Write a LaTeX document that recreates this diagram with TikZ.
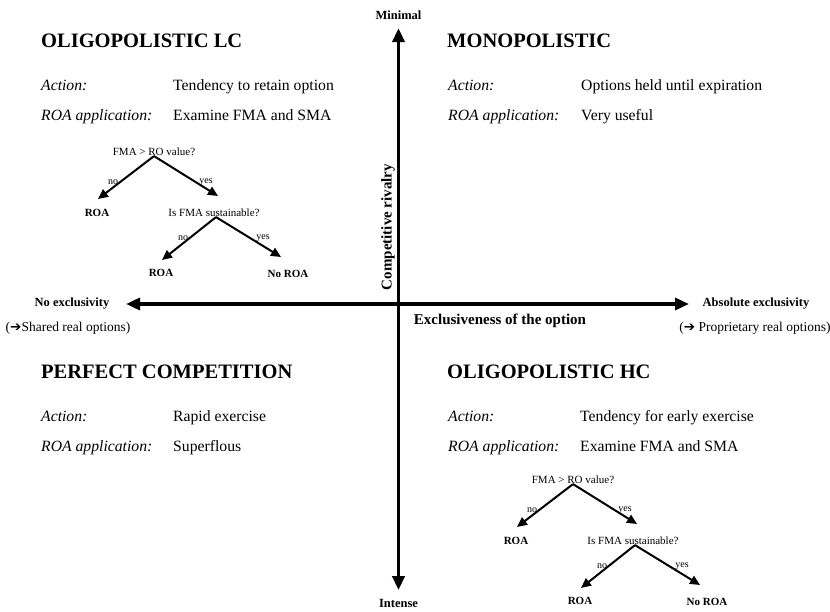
\documentclass[tikz,border=0pt]{standalone}
\usepackage{fontspec}
\setmainfont{Liberation Serif}
\newfontfamily\symfont{DejaVu Sans}
\usetikzlibrary{arrows.meta}

\tikzset{
  axis/.style={line width=3.5pt,
    {Triangle[length=14pt,width=12pt]}-{Triangle[length=14pt,width=12pt]}},
  axislabel/.style={font=\bfseries\fontsize{12.5}{14}\selectfont, inner sep=0pt},
  axisnote/.style={font=\fontsize{13.5}{15}\selectfont, inner sep=0pt},
  axistitle/.style={font=\bfseries\fontsize{15}{17}\selectfont, inner sep=0pt},
  quadtitle/.style={font=\bfseries\fontsize{20.5}{24}\selectfont, anchor=base west, inner sep=0pt},
  field/.style={font=\itshape\fontsize{15.7}{18}\selectfont, anchor=base west, inner sep=0pt},
  entry/.style={font=\fontsize{15.7}{18}\selectfont, anchor=base west, inner sep=0pt},
  question/.style={font=\fontsize{11}{13}\selectfont, inner sep=0pt},
  answer/.style={font=\bfseries\fontsize{11}{13}\selectfont, inner sep=0pt},
  branch/.style={font=\fontsize{10}{12}\selectfont, inner sep=0pt},
  decision/.style={line width=2pt, -{Triangle[length=10pt,width=9pt]}},
}

% Decision tree: FMA vs. RO value, then sustainability of the FMA
\newcommand\roatree[2]{%
  \begin{scope}[shift={#2}]
    \node[question] (#1q1) at (0,0) {FMA > RO value?};
    \node[answer]   (#1a1) at (-57,61) {ROA};
    \node[question] (#1q2) at (60,61) {Is FMA sustainable?};
    \node[answer]   (#1a2) at (7,121) {ROA};
    \node[answer]   (#1a3) at (134,122) {No ROA};
    \node[branch]   (#1b1) at (-41,30) {no};
    \node[branch]   (#1b2) at (52,30) {yes};
    \node[branch]   (#1b3) at (29,86) {no};
    \node[branch]   (#1b4) at (109,86) {yes};
    \coordinate (#1e1) at (-56,47);
    \coordinate (#1e2) at (64,44);
    \coordinate (#1e3) at (8,108);
    \coordinate (#1e4) at (127,105);
    \draw[decision] (#1q1.south) -- (#1e1);
    \draw[decision] (#1q1.south) -- (#1e2);
    \draw[decision] ([xshift=2pt]#1q2.south) -- (#1e3);
    \draw[decision] ([xshift=2pt]#1q2.south) -- (#1e4);
  \end{scope}}

\begin{document}
\begin{tikzpicture}[x=1pt,y=-1pt]
  \useasboundingbox (0,0) rectangle (830,612);

  % axes and their end labels
  \node[axislabel] (minimal) at (398.5,15) {Minimal};
  \node[axislabel] (intense) at (398.5,603) {Intense};
  \node[axislabel] (noex) at (72,304) {No exclusivity};
  \node[axislabel] (absex) at (756,304) {Absolute exclusivity};
  \node[axisnote] (shared) at (68,328) {({\symfont ➔}Shared real options)};
  \node[axisnote] (propr) at (755,328) {({\symfont ➔} Proprietary real options)};
  \node[axistitle] (xtitle) at (500,321) {Exclusiveness of the option};
  \node[axistitle, rotate=90] (ytitle) at (388,227) {Competitive rivalry};

  \draw[axis, shorten <=16.5pt, shorten >=13.5pt] (noex) -- (absex);
  \draw[axis, shorten <=8.5pt, shorten >=8.5pt] (minimal) -- (intense);

  % upper left quadrant
  \node[quadtitle] (tlt) at (41,48) {OLIGOPOLISTIC LC};
  \node[field] (tlf1) at (41,91) {Action:};
  \node[entry] (tlv1) at (173,91) {Tendency to retain option};
  \node[field] (tlf2) at (41,121) {ROA application:};
  \node[entry] (tlv2) at (173,121) {Examine FMA and SMA};
  \roatree{tl}{(154,152)}

  % upper right quadrant
  \node[quadtitle] (trt) at (447,48) {MONOPOLISTIC};
  \node[field] (trf1) at (448,91) {Action:};
  \node[entry] (trv1) at (581,91) {Options held until expiration};
  \node[field] (trf2) at (448,121) {ROA application:};
  \node[entry] (trv2) at (581,121) {Very useful};

  % lower left quadrant
  \node[quadtitle] (blt) at (41,378) {PERFECT COMPETITION};
  \node[field] (blf1) at (41,421) {Action:};
  \node[entry] (blv1) at (173,421) {Rapid exercise};
  \node[field] (blf2) at (41,451) {ROA application:};
  \node[entry] (blv2) at (173,451) {Superflous};

  % lower right quadrant
  \node[quadtitle] (brt) at (447,378) {OLIGOPOLISTIC HC};
  \node[field] (brf1) at (448,421) {Action:};
  \node[entry] (brv1) at (580,421) {Tendency for early exercise};
  \node[field] (brf2) at (448,451) {ROA application:};
  \node[entry] (brv2) at (580,451) {Examine FMA and SMA};
  \roatree{br}{(573,480)}
\end{tikzpicture}
\end{document}
